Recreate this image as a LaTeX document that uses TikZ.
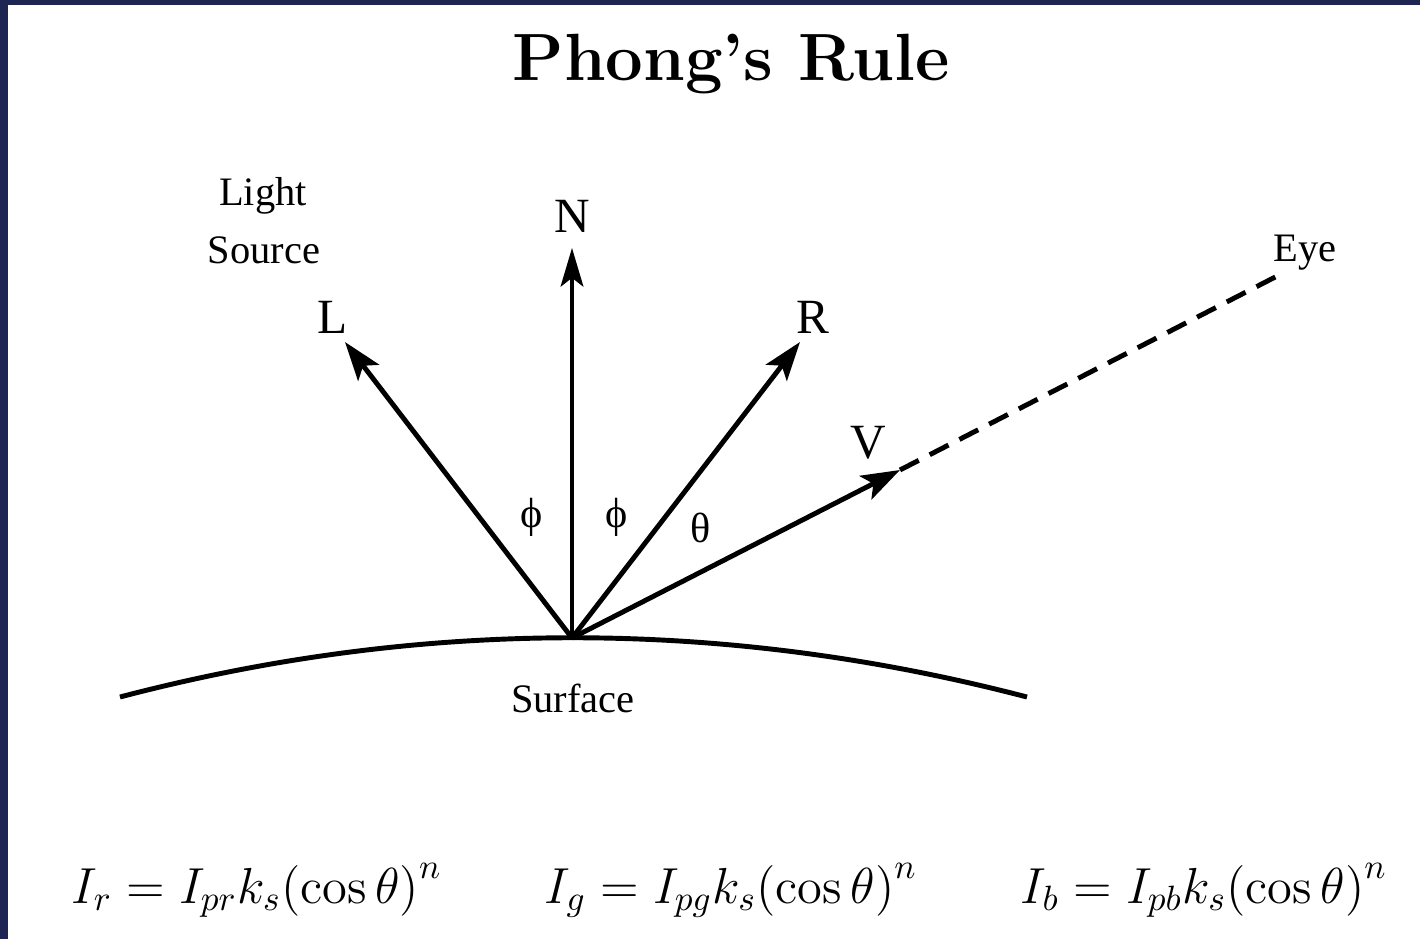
\documentclass[tikz,border=0pt]{standalone}
\usepackage{fontspec}
\usetikzlibrary{arrows.meta}
\newfontfamily\labelfont{Liberation Serif}
\definecolor{framenavy}{HTML}{1E2553}
\definecolor{figdark}{gray}{0.0}
\tikzset{
  vec/.style={
    draw=figdark, line width=1.4pt,
    -{Stealth[length=11pt, width=7.5pt, inset=2.5pt]}
  },
  normal/.style={
    draw=figdark, line width=0.9pt,
    -{Stealth[length=11pt, width=6.5pt, inset=2.5pt]}
  },
  sight/.style={draw=figdark, line width=1.4pt, dash pattern=on 6pt off 3.5pt},
  surf/.style={draw=figdark, line width=1.4pt},
  tag/.style={inner sep=0pt, anchor=base, font=\labelfont\fontsize{14}{16}\selectfont},
  note/.style={inner sep=0pt, anchor=base, font=\labelfont\fontsize{11.5}{14}\selectfont},
  angle/.style={inner sep=0pt, font=\labelfont\fontsize{12}{14}\selectfont},
  law/.style={inner sep=0pt, anchor=base, font=\fontsize{14.4}{17}\selectfont}
}

\begin{document}
\begin{tikzpicture}[x=0.01cm, y=-0.01cm]

  % page with the slide frame
  \useasboundingbox (0,0) rectangle (1420,939);
  \fill[framenavy] (0,0) rectangle (1420,939);
  \fill[white] (8,5) rectangle (1420,939);

  % title
  \node[inner sep=0pt, anchor=base, font=\bfseries\fontsize{19}{22}\selectfont]
    (title) at (731,80) {Phong's Rule};

  % point on the surface and the ends of the vectors
  \coordinate (O) at (572,638);
  \coordinate (Ltip) at (345,342);
  \coordinate (Ntip) at (572,248);
  \coordinate (Rtip) at (800,342);
  \coordinate (Vtip) at (900,470);
  \coordinate (eye) at (1285,272);
  \coordinate (sl) at (120,697);
  \coordinate (sr) at (1027,697);

  % surface
  \draw[surf] (sl) .. controls (421,618) and (724,618) .. (sr);

  % vectors
  \draw[vec] (O) -- (Ltip);
  \draw[normal] (O) -- (Ntip);
  \draw[vec] (O) -- (Rtip);
  \draw[vec] (O) -- (Vtip);
  \draw[sight] (Vtip) -- (eye);

  % vector labels
  \node[tag] (lL) at (333,333) {L};
  \node[tag] (lN) at (572,232) {N};
  \node[tag] (lR) at (813,333) {R};
  \node[tag] (lV) at (868,458) {V};
  \node[note] (light) at (263,205) {Light};
  \node[note] (source) at (264,263) {Source};
  \node[note] (leye) at (1305,261) {Eye};
  \node[note] (lsurf) at (573,712) {Surface};

  % angles
  \node[angle] (phiL) at (532,517) {ϕ};
  \node[angle] (phiR) at (617,517) {ϕ};
  \node[angle] (th) at (701,528) {θ};

  % specular terms per channel
  \node[law] (Ir) at (257,903) {$I_r = I_{pr} k_s \bigl(\cos\theta\bigr)^n$};
  \node[law] (Ig) at (731,903) {$I_g = I_{pg} k_s \bigl(\cos\theta\bigr)^n$};
  \node[law] (Ib) at (1204,903) {$I_b = I_{pb} k_s \bigl(\cos\theta\bigr)^n$};

\end{tikzpicture}
\end{document}
